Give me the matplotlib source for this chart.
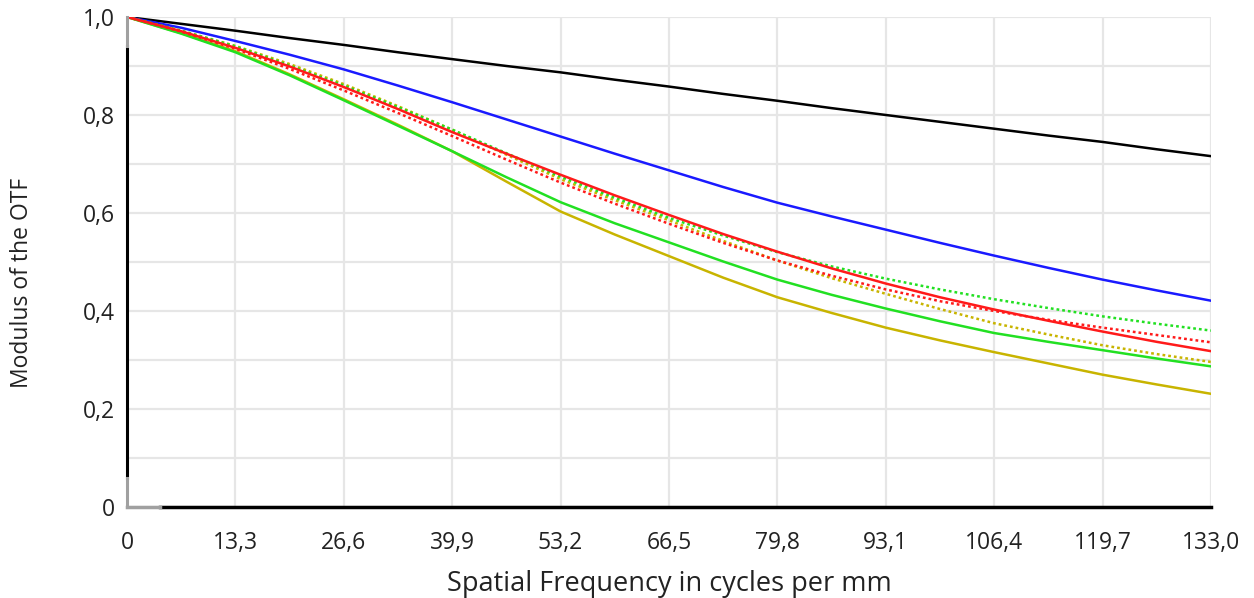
import matplotlib
matplotlib.use("Agg")
import matplotlib.pyplot as plt

plt.rcParams['font.family'] = ['Open Sans', 'DejaVu Sans']

# spatial frequency (cycles/mm)
freq = [0, 6.65, 13.3, 19.95, 26.6, 33.25, 39.9, 46.55, 53.2, 59.85, 66.5,
        73.15, 79.8, 86.45, 93.1, 99.75, 106.4, 113.05, 119.7, 126.35, 133.0]

# MTF curves
diff_limit = [1.0, 0.986, 0.972, 0.957, 0.943, 0.928, 0.914, 0.900, 0.887, 0.872, 0.858,
              0.843, 0.829, 0.814, 0.800, 0.786, 0.772, 0.758, 0.745, 0.730, 0.716]
blue_t = [1.0, 0.978, 0.951, 0.923, 0.893, 0.860, 0.826, 0.791, 0.756, 0.721, 0.687,
          0.653, 0.621, 0.593, 0.566, 0.539, 0.513, 0.488, 0.464, 0.442, 0.421]
red_t = [1.0, 0.971, 0.937, 0.899, 0.857, 0.812, 0.765, 0.721, 0.678, 0.636, 0.596,
         0.557, 0.521, 0.487, 0.456, 0.428, 0.403, 0.380, 0.358, 0.337, 0.318]
red_s = [1.0, 0.970, 0.935, 0.894, 0.850, 0.804, 0.757, 0.709, 0.662, 0.619, 0.578,
         0.539, 0.503, 0.472, 0.444, 0.420, 0.400, 0.382, 0.366, 0.351, 0.336]
green_t = [1.0, 0.966, 0.928, 0.881, 0.830, 0.778, 0.726, 0.673, 0.622, 0.579, 0.540,
           0.501, 0.464, 0.433, 0.405, 0.379, 0.355, 0.337, 0.320, 0.303, 0.287]
green_s = [1.0, 0.972, 0.940, 0.901, 0.860, 0.816, 0.770, 0.722, 0.674, 0.631, 0.590,
           0.554, 0.520, 0.491, 0.466, 0.444, 0.424, 0.406, 0.389, 0.374, 0.360]
yellow_t = [1.0, 0.967, 0.930, 0.883, 0.832, 0.780, 0.726, 0.664, 0.603, 0.556, 0.512,
            0.468, 0.428, 0.396, 0.366, 0.340, 0.316, 0.293, 0.270, 0.250, 0.231]
yellow_s = [1.0, 0.972, 0.941, 0.904, 0.863, 0.818, 0.770, 0.719, 0.669, 0.626, 0.585,
            0.543, 0.503, 0.467, 0.435, 0.404, 0.375, 0.352, 0.330, 0.312, 0.296]

xticks = [0, 13.3, 26.6, 39.9, 53.2, 66.5, 79.8, 93.1, 106.4, 119.7, 133.0]
xtick_labels = ["0", "13,3", "26,6", "39,9", "53,2", "66,5", "79,8", "93,1", "106,4", "119,7", "133,0"]
yticks = [0, 0.2, 0.4, 0.6, 0.8, 1.0]
ytick_labels = ["0", "0,2", "0,4", "0,6", "0,8", "1,0"]

fig = plt.figure(figsize=(12.54, 5.98), dpi=100)
ax = fig.add_axes([0.1013, 0.1522, 0.8644, 0.8194])

lw = 1.8
dots = (0, (1.1, 1.2))
ax.plot(freq, diff_limit, color="black", lw=lw)
ax.plot(freq, blue_t, color="#1a1aff", lw=lw)
ax.plot(freq, yellow_t, color="#c8b400", lw=lw)
ax.plot(freq, green_t, color="#22e022", lw=lw)
ax.plot(freq, yellow_s, color="#c8b400", lw=lw, ls=dots)
ax.plot(freq, green_s, color="#22e022", lw=lw, ls=dots)
ax.plot(freq, red_s, color="#ff1a1a", lw=lw, ls=dots)
ax.plot(freq, red_t, color="#ff1a1a", lw=lw)

ax.set_xlim(0, 133)
ax.set_ylim(0, 1)
ax.set_xticks(xticks)
ax.set_xticklabels(xtick_labels)
ax.set_yticks(yticks)
ax.set_yticklabels(ytick_labels)
ax.set_yticks([0.1, 0.3, 0.5, 0.7, 0.9], minor=True)
ax.tick_params(which="both", length=0, labelsize=16.5, colors="#222222")
ax.tick_params(axis="x", pad=17)
ax.tick_params(axis="y", pad=9)
ax.grid(True, which="both", color="#e6e6e6", lw=1.6)
ax.set_axisbelow(True)

for s in ax.spines.values():
    s.set_visible(False)

# axis lines: black with grey ends, like the screenshot
ax.axvline(0, ymin=0.06, ymax=0.94, color="black", lw=2.2, clip_on=False)
ax.axvline(0, ymin=0.94, ymax=1.0, color="#a0a0a0", lw=2.2, clip_on=False)
ax.axvline(0, ymin=0.0, ymax=0.06, color="#a0a0a0", lw=2.2, clip_on=False)
ax.axhline(0, xmin=0.03, xmax=1.0, color="black", lw=2.5, clip_on=False)
ax.axhline(0, xmin=0.0, xmax=0.03, color="#a0a0a0", lw=2.5, clip_on=False)

fig.text(669 / 1254, 1 - 591 / 598, "Spatial Frequency in cycles per mm",
         fontsize=19.5, color="#222222", ha="center", va="baseline")
fig.text(22 / 1254, 1 - 283 / 598, "Modulus of the OTF", rotation=90,
         fontsize=16.5, color="#222222", ha="center", va="center")

fig.savefig("out.png", dpi=100, facecolor="white")
